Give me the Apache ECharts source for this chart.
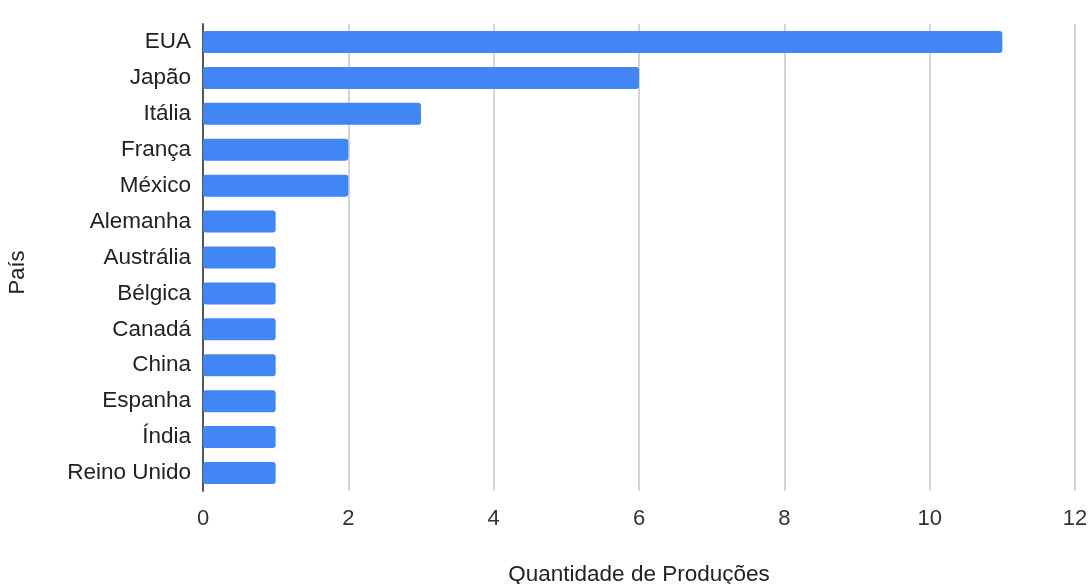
<!DOCTYPE html>
<html>
<head>
<meta charset="utf-8">
<script src="https://cdn.jsdelivr.net/npm/echarts@6/dist/echarts.min.js"></script>
<style>html,body{margin:0;padding:0;background:#fff}#c{width:1089px;height:584px}</style>
</head>
<body>
<div id="c"></div>
<script>
const categories = ["EUA","Japão","Itália","França","México","Alemanha","Austrália","Bélgica","Canadá","China","Espanha","Índia","Reino Unido"];
const values = [11,6,3,2,2,1,1,1,1,1,1,1,1];
const xTicks = [0,2,4,6,8,10,12];
const xTitle = "Quantidade de Produções";
const yTitle = "País";

const chart = echarts.init(document.getElementById('c'));
chart.setOption({
  animation: false,
  textStyle: {fontFamily: 'Liberation Sans, Arial, sans-serif'},
  grid: {left: 203, right: 14, top: 24, bottom: 93, containLabel: false, outerBoundsMode: 'none'},
  xAxis: {
    type: 'value', min: xTicks[0], max: xTicks[xTicks.length-1], interval: 2,
    name: xTitle, nameLocation: 'middle', nameGap: 72,
    nameTextStyle: {fontSize: 22.5, color: '#222'},
    axisLine: {show: false}, axisTick: {show: false},
    axisLabel: {fontSize: 22, color: '#333', margin: 17},
    splitLine: {lineStyle: {color: '#d4d4d4', width: 2}}
  },
  yAxis: {
    type: 'category', data: categories, inverse: true,
    name: yTitle, nameLocation: 'middle', nameGap: 174, nameRotate: 90,
    nameTextStyle: {fontSize: 22, color: '#222', padding: [0, 30, 0, 0]},
    axisLine: {show: true, lineStyle: {color: '#555', width: 2}},
    axisTick: {show: false},
    axisLabel: {fontSize: 22.5, color: '#222', margin: 12}
  },
  series: [{
    type: 'bar', data: values, barWidth: 22,
    itemStyle: {color: '#4285f4', borderRadius: 3}
  }]
});
</script>
</body>
</html>
